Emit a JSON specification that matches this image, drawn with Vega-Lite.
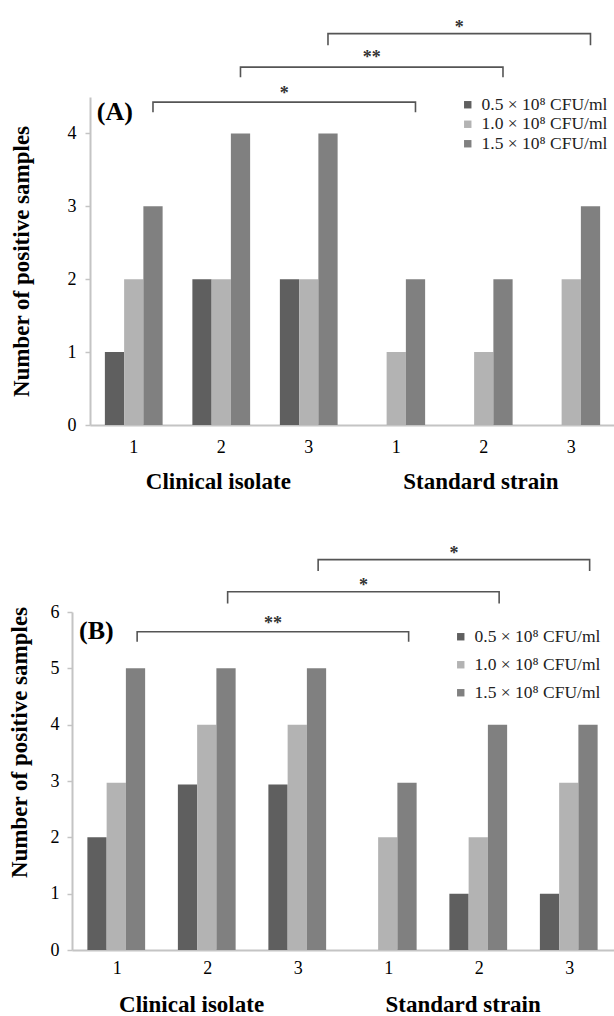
{
  "$schema": "https://vega.github.io/schema/vega-lite/v6.json",
  "padding": {"left": 7, "top": 19, "right": 0, "bottom": 0},
  "config": {
    "font": "Liberation Serif",
    "view": {"stroke": null},
    "axis": {"labelFont": "Liberation Serif", "labelFontSize": 18, "labelColor": "#000", "domainColor": "#c4c4c4", "domainWidth": 2, "tickColor": "#c4c4c4", "tickWidth": 1.5, "grid": false, "titleFont": "Liberation Serif", "titleFontWeight": "bold", "titleFontSize": 23, "titleColor": "#000"},
    "legend": {"labelFont": "Liberation Serif", "labelFontSize": 17.5, "labelColor": "#222", "symbolType": "square", "symbolSize": 55, "symbolStrokeWidth": 0, "labelOffset": 5, "padding": 0}
  },
  "datasets": {
    "barsA": [
      {"grp": "C1", "conc": "0.5 × 10⁸ CFU/ml", "n": 1}, {"grp": "C1", "conc": "1.0 × 10⁸ CFU/ml", "n": 2}, {"grp": "C1", "conc": "1.5 × 10⁸ CFU/ml", "n": 3},
      {"grp": "C2", "conc": "0.5 × 10⁸ CFU/ml", "n": 2}, {"grp": "C2", "conc": "1.0 × 10⁸ CFU/ml", "n": 2}, {"grp": "C2", "conc": "1.5 × 10⁸ CFU/ml", "n": 4},
      {"grp": "C3", "conc": "0.5 × 10⁸ CFU/ml", "n": 2}, {"grp": "C3", "conc": "1.0 × 10⁸ CFU/ml", "n": 2}, {"grp": "C3", "conc": "1.5 × 10⁸ CFU/ml", "n": 4},
      {"grp": "S1", "conc": "0.5 × 10⁸ CFU/ml", "n": 0}, {"grp": "S1", "conc": "1.0 × 10⁸ CFU/ml", "n": 1}, {"grp": "S1", "conc": "1.5 × 10⁸ CFU/ml", "n": 2},
      {"grp": "S2", "conc": "0.5 × 10⁸ CFU/ml", "n": 0}, {"grp": "S2", "conc": "1.0 × 10⁸ CFU/ml", "n": 1}, {"grp": "S2", "conc": "1.5 × 10⁸ CFU/ml", "n": 2},
      {"grp": "S3", "conc": "0.5 × 10⁸ CFU/ml", "n": 0}, {"grp": "S3", "conc": "1.0 × 10⁸ CFU/ml", "n": 2}, {"grp": "S3", "conc": "1.5 × 10⁸ CFU/ml", "n": 3}
    ],
    "barsB": [
      {"grp": "C1", "conc": "0.5 × 10⁸ CFU/ml", "n": 2}, {"grp": "C1", "conc": "1.0 × 10⁸ CFU/ml", "n": 2.97}, {"grp": "C1", "conc": "1.5 × 10⁸ CFU/ml", "n": 5},
      {"grp": "C2", "conc": "0.5 × 10⁸ CFU/ml", "n": 2.94}, {"grp": "C2", "conc": "1.0 × 10⁸ CFU/ml", "n": 4}, {"grp": "C2", "conc": "1.5 × 10⁸ CFU/ml", "n": 5},
      {"grp": "C3", "conc": "0.5 × 10⁸ CFU/ml", "n": 2.94}, {"grp": "C3", "conc": "1.0 × 10⁸ CFU/ml", "n": 4}, {"grp": "C3", "conc": "1.5 × 10⁸ CFU/ml", "n": 5},
      {"grp": "S1", "conc": "0.5 × 10⁸ CFU/ml", "n": 0}, {"grp": "S1", "conc": "1.0 × 10⁸ CFU/ml", "n": 2}, {"grp": "S1", "conc": "1.5 × 10⁸ CFU/ml", "n": 2.97},
      {"grp": "S2", "conc": "0.5 × 10⁸ CFU/ml", "n": 1}, {"grp": "S2", "conc": "1.0 × 10⁸ CFU/ml", "n": 2}, {"grp": "S2", "conc": "1.5 × 10⁸ CFU/ml", "n": 4},
      {"grp": "S3", "conc": "0.5 × 10⁸ CFU/ml", "n": 1}, {"grp": "S3", "conc": "1.0 × 10⁸ CFU/ml", "n": 2.97}, {"grp": "S3", "conc": "1.5 × 10⁸ CFU/ml", "n": 4}
    ],
    "bracketsA": [
      {"b": "a", "o": 1, "grp": "C1", "y": 4.29}, {"b": "a", "o": 2, "grp": "C1", "y": 4.43}, {"b": "a", "o": 3, "grp": "S1", "y": 4.43}, {"b": "a", "o": 4, "grp": "S1", "y": 4.29},
      {"b": "b", "o": 1, "grp": "C2", "y": 4.77}, {"b": "b", "o": 2, "grp": "C2", "y": 4.91}, {"b": "b", "o": 3, "grp": "S2", "y": 4.91}, {"b": "b", "o": 4, "grp": "S2", "y": 4.77},
      {"b": "c", "o": 1, "grp": "C3", "y": 5.21}, {"b": "c", "o": 2, "grp": "C3", "y": 5.37}, {"b": "c", "o": 3, "grp": "S3", "y": 5.37}, {"b": "c", "o": 4, "grp": "S3", "y": 5.21}
    ],
    "bracketsB": [
      {"b": "a", "o": 1, "grp": "C1", "y": 5.47}, {"b": "a", "o": 2, "grp": "C1", "y": 5.65}, {"b": "a", "o": 3, "grp": "S1", "y": 5.65}, {"b": "a", "o": 4, "grp": "S1", "y": 5.47},
      {"b": "b", "o": 1, "grp": "C2", "y": 6.15}, {"b": "b", "o": 2, "grp": "C2", "y": 6.36}, {"b": "b", "o": 3, "grp": "S2", "y": 6.36}, {"b": "b", "o": 4, "grp": "S2", "y": 6.15},
      {"b": "c", "o": 1, "grp": "C3", "y": 6.73}, {"b": "c", "o": 2, "grp": "C3", "y": 6.93}, {"b": "c", "o": 3, "grp": "S3", "y": 6.93}, {"b": "c", "o": 4, "grp": "S3", "y": 6.73}
    ],
    "starsA": [
      {"grp": "C3", "t": "*", "y": 4.54}, {"grp": "S1", "t": "**", "y": 5.03}, {"grp": "S2", "t": "*", "y": 5.44}
    ],
    "starsB": [
      {"grp": "C3", "t": "**", "y": 5.79}, {"grp": "S1", "t": "*", "y": 6.46}, {"grp": "S2", "t": "*", "y": 7.03}
    ],
    "groupsA": [
      {"grp": "C2", "t": "Clinical isolate", "y": -0.78}, {"grp": "S2", "t": "Standard strain", "y": -0.78}
    ],
    "groupsB": [
      {"grp": "C2", "t": "Clinical isolate", "y": -0.97}, {"grp": "S2", "t": "Standard strain", "y": -0.97}
    ],
    "panelA": [{"grp": "C1", "t": "(A)", "y": 4.3}],
    "panelB": [{"grp": "C1", "t": "(B)", "y": 5.67}]
  },
  "concat": [
    {
      "width": 543,
      "height": 328,
      "layer": [
        {
          "data": {"name": "barsA"},
          "mark": {"type": "bar"},
          "encoding": {
            "x": {"field": "grp", "type": "nominal", "scale": {"domain": ["C1", "C2", "C3", "S1", "S2", "S3"], "range": [18, 543], "paddingInner": 0.34, "paddingOuter": 0.17},
                  "axis": {"title": null, "ticks": false, "labelExpr": "substring(datum.label, 1)", "labelPadding": 13, "labelAngle": 0}},
            "xOffset": {"field": "conc", "type": "nominal", "scale": {"domain": ["0.5 × 10⁸ CFU/ml", "1.0 × 10⁸ CFU/ml", "1.5 × 10⁸ CFU/ml"]}},
            "y": {"field": "n", "type": "quantitative", "scale": {"domain": [0, 4.5], "nice": false},
                  "axis": {"values": [0, 1, 2, 3, 4], "format": "d", "title": "Number of positive samples", "offset": -18, "tickSize": 5, "labelPadding": 9, "titlePadding": 34}},
            "color": {"field": "conc", "type": "nominal",
                      "scale": {"domain": ["0.5 × 10⁸ CFU/ml", "1.0 × 10⁸ CFU/ml", "1.5 × 10⁸ CFU/ml"], "range": ["#5f5f5f", "#b3b3b3", "#808080"]},
                      "legend": {"title": null, "orient": "none", "legendX": 387, "legendY": -1, "rowPadding": 0.5}}
          }
        },
        {
          "data": {"name": "bracketsA"},
          "mark": {"type": "line", "color": "#555555", "strokeWidth": 1.6},
          "encoding": {
            "x": {"field": "grp", "type": "nominal", "bandPosition": 0.833},
            "y": {"field": "y", "type": "quantitative"},
            "detail": {"field": "b"},
            "order": {"field": "o", "type": "quantitative"}
          }
        },
        {
          "data": {"name": "starsA"},
          "mark": {"type": "text", "fontSize": 18, "fontWeight": "bold", "color": "#333333", "baseline": "middle"},
          "encoding": {
            "x": {"field": "grp", "type": "nominal", "bandPosition": 0.076},
            "y": {"field": "y", "type": "quantitative"},
            "text": {"field": "t"}
          }
        },
        {
          "data": {"name": "groupsA"},
          "mark": {"type": "text", "fontSize": 23, "fontWeight": "bold", "color": "#000", "baseline": "middle"},
          "encoding": {
            "x": {"field": "grp", "type": "nominal", "bandPosition": 0.45},
            "y": {"field": "y", "type": "quantitative"},
            "text": {"field": "t"}
          }
        },
        {
          "data": {"name": "panelA"},
          "mark": {"type": "text", "fontSize": 26, "fontWeight": "bold", "color": "#000", "baseline": "middle", "align": "left"},
          "encoding": {
            "x": {"field": "grp", "type": "nominal", "bandPosition": -0.14},
            "y": {"field": "y", "type": "quantitative"},
            "text": {"field": "t"}
          }
        }
      ]
    },
    {
      "width": 543,
      "height": 338,
      "layer": [
        {
          "data": {"name": "barsB"},
          "mark": {"type": "bar"},
          "encoding": {
            "x": {"field": "grp", "type": "nominal", "scale": {"domain": ["C1", "C2", "C3", "S1", "S2", "S3"], "paddingInner": 0.34, "paddingOuter": 0.17},
                  "axis": {"title": null, "ticks": false, "labelExpr": "substring(datum.label, 1)", "labelPadding": 9, "labelAngle": 0}},
            "xOffset": {"field": "conc", "type": "nominal", "scale": {"domain": ["0.5 × 10⁸ CFU/ml", "1.0 × 10⁸ CFU/ml", "1.5 × 10⁸ CFU/ml"]}},
            "y": {"field": "n", "type": "quantitative", "scale": {"domain": [0, 6], "nice": false},
                  "axis": {"values": [0, 1, 2, 3, 4, 5, 6], "format": "d", "title": "Number of positive samples", "titleY": 130, "tickSize": 5, "labelPadding": 8, "titlePadding": 19}},
            "color": {"field": "conc", "type": "nominal",
                      "scale": {"domain": ["0.5 × 10⁸ CFU/ml", "1.0 × 10⁸ CFU/ml", "1.5 × 10⁸ CFU/ml"], "range": ["#5f5f5f", "#b3b3b3", "#808080"]},
                      "legend": {"title": null, "orient": "none", "legendX": 380, "legendY": 16, "rowPadding": 9}}
          }
        },
        {
          "data": {"name": "bracketsB"},
          "mark": {"type": "line", "color": "#555555", "strokeWidth": 1.6},
          "encoding": {
            "x": {"field": "grp", "type": "nominal", "bandPosition": 0.833},
            "y": {"field": "y", "type": "quantitative"},
            "detail": {"field": "b"},
            "order": {"field": "o", "type": "quantitative"}
          }
        },
        {
          "data": {"name": "starsB"},
          "mark": {"type": "text", "fontSize": 18, "fontWeight": "bold", "color": "#333333", "baseline": "middle"},
          "encoding": {
            "x": {"field": "grp", "type": "nominal", "bandPosition": 0.076},
            "y": {"field": "y", "type": "quantitative"},
            "text": {"field": "t"}
          }
        },
        {
          "data": {"name": "groupsB"},
          "mark": {"type": "text", "fontSize": 23, "fontWeight": "bold", "color": "#000", "baseline": "middle"},
          "encoding": {
            "x": {"field": "grp", "type": "nominal", "bandPosition": 0.23},
            "y": {"field": "y", "type": "quantitative"},
            "text": {"field": "t"}
          }
        },
        {
          "data": {"name": "panelB"},
          "mark": {"type": "text", "fontSize": 26, "fontWeight": "bold", "color": "#000", "baseline": "middle", "align": "left"},
          "encoding": {
            "x": {"field": "grp", "type": "nominal", "bandPosition": -0.14},
            "y": {"field": "y", "type": "quantitative"},
            "text": {"field": "t"}
          }
        }
      ]
    }
  ],
  "columns": 1,
  "spacing": 50,
  "resolve": {"scale": {"color": "independent"}, "legend": {"color": "independent"}}
}
